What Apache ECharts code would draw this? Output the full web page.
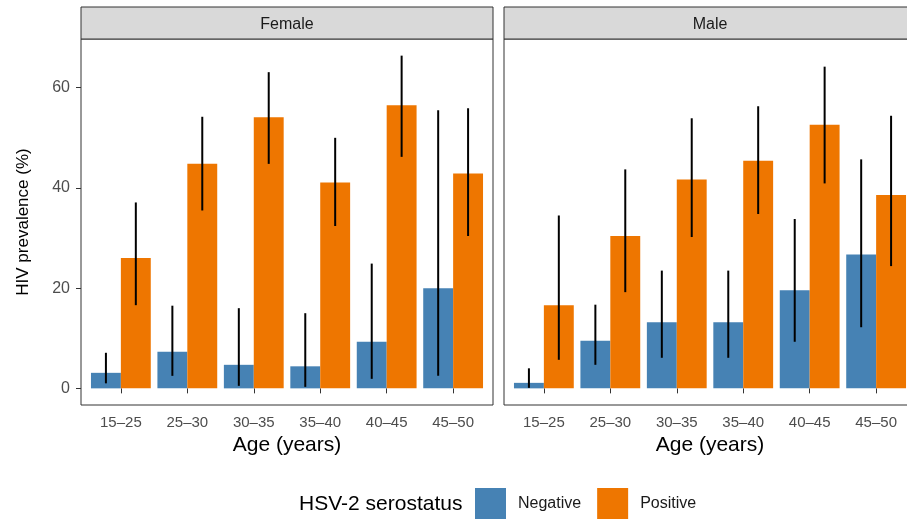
<!DOCTYPE html>
<html>
<head>
<meta charset="utf-8">
<script src="https://cdn.jsdelivr.net/npm/echarts@6/dist/echarts.min.js"></script>
<style>
  html, body { margin: 0; padding: 0; background: #fff; }
  #chart { width: 907px; height: 519px; }
</style>
</head>
<body>
<div id="chart"></div>
<script>
// age groups (x categories)
const ageGroups = ['15–25', '25–30', '30–35', '35–40', '40–45', '45–50'];
const yTicks = [0, 20, 40, 60];

// Female, HSV-2 negative / positive: estimate and 95% CI
const femaleNeg = [3.1, 7.3, 4.7, 4.4, 9.3, 20.0];
const femaleNegLow = [1.0, 2.5, 0.5, 0.3, 1.9, 2.5];
const femaleNegHigh = [7.1, 16.5, 16.0, 15.0, 24.9, 55.5];
const femalePos = [26.0, 44.8, 54.1, 41.1, 56.5, 42.9];
const femalePosLow = [16.6, 35.5, 44.8, 32.4, 46.2, 30.4];
const femalePosHigh = [37.1, 54.2, 63.1, 50.0, 66.4, 55.9];

// Male
const maleNeg = [1.1, 9.5, 13.2, 13.2, 19.6, 26.7];
const maleNegLow = [0.1, 4.7, 6.1, 6.1, 9.3, 12.2];
const maleNegHigh = [4.0, 16.7, 23.5, 23.5, 33.8, 45.7];
const malePos = [16.6, 30.4, 41.7, 45.4, 52.6, 38.6];
const malePosLow = [5.7, 19.2, 30.2, 34.8, 40.9, 24.4];
const malePosHigh = [34.5, 43.7, 53.9, 56.3, 64.2, 54.4];

const colNeg = '#4682B4';
const colPos = '#EE7600';
const fontFamily = 'Liberation Sans, Arial, sans-serif';

// panel layout (px)
const panelW = 412;
const panelTop = 39;
const panelBottom = 405;
const stripH = 32;
const panels = [{ left: 81, title: 'Female' }, { left: 504, title: 'Male' }];

// ggplot style expansion
const yMaxData = Math.max(...femaleNegHigh, ...femalePosHigh, ...maleNegHigh, ...malePosHigh);
const yMin = -0.05 * yMaxData;
const yMax = yMaxData * 1.05;
const xMin = 0.4, xMax = ageGroups.length + 0.6;
const dodge = 0.225;
const barW = 0.45 * panelW / (xMax - xMin);

function barData(vals, off) {
  return vals.map((v, i) => [i + 1 + off, v]);
}
function errData(low, high, off) {
  return low.map((l, i) => [i + 1 + off, l, high[i]]);
}
function renderErr(params, api) {
  const p1 = api.coord([api.value(0), api.value(1)]);
  const p2 = api.coord([api.value(0), api.value(2)]);
  return {
    type: 'line',
    shape: { x1: p1[0], y1: p1[1], x2: p2[0], y2: p2[1] },
    style: { stroke: '#000', lineWidth: 2 }
  };
}

const chart = echarts.init(document.getElementById('chart'));

const grids = panels.map(p => ({
  left: p.left,
  width: panelW,
  top: panelTop,
  bottom: 519 - panelBottom,
  outerBoundsMode: 'none',
  containLabel: false,
  show: true,
  borderColor: '#333333',
  borderWidth: 1,
  backgroundColor: '#fff'
}));

const xAxes = panels.map((p, k) => ({
  type: 'value',
  gridIndex: k,
  min: xMin,
  max: xMax,
  axisLine: { show: false },
  splitLine: { show: false },
  axisTick: { show: true, length: 5, lineStyle: { color: '#333333' }, customValues: ageGroups.map((a, i) => i + 1) },
  axisLabel: {
    show: true,
    customValues: ageGroups.map((a, i) => i + 1),
    formatter: v => ageGroups[Math.round(v) - 1],
    color: '#4D4D4D',
    fontSize: 15,
    fontFamily: fontFamily,
    margin: 10
  },
  name: 'Age (years)',
  nameLocation: 'middle',
  nameGap: 29,
  nameTextStyle: { fontSize: 21, color: '#000', fontFamily: fontFamily }
}));

const yAxes = panels.map((p, k) => ({
  type: 'value',
  gridIndex: k,
  min: yMin,
  max: yMax,
  axisLine: { show: false },
  splitLine: { show: false },
  axisTick: { show: k === 0, length: 5, lineStyle: { color: '#333333' }, customValues: yTicks },
  axisLabel: {
    show: k === 0,
    customValues: yTicks,
    color: '#4D4D4D',
    fontSize: 16,
    fontFamily: fontFamily,
    margin: 11
  },
  name: k === 0 ? 'HIV prevalence (%)' : '',
  nameLocation: 'middle',
  nameRotate: 90,
  nameGap: 49,
  nameTextStyle: { fontSize: 17, color: '#000', fontFamily: fontFamily }
}));

const groups = [
  { neg: femaleNeg, negL: femaleNegLow, negH: femaleNegHigh, pos: femalePos, posL: femalePosLow, posH: femalePosHigh },
  { neg: maleNeg, negL: maleNegLow, negH: maleNegHigh, pos: malePos, posL: malePosLow, posH: malePosHigh }
];

const series = [];
groups.forEach((g, k) => {
  series.push({
    name: 'Negative', type: 'bar', xAxisIndex: k, yAxisIndex: k,
    barWidth: barW, barGap: '-100%', itemStyle: { color: colNeg },
    data: barData(g.neg, -dodge), silent: true
  });
  series.push({
    name: 'Positive', type: 'bar', xAxisIndex: k, yAxisIndex: k,
    barWidth: barW, barGap: '-100%', itemStyle: { color: colPos },
    data: barData(g.pos, dodge), silent: true
  });
  series.push({
    name: 'errNeg' + k, type: 'custom', xAxisIndex: k, yAxisIndex: k,
    renderItem: renderErr, data: errData(g.negL, g.negH, -dodge), z: 5, silent: true
  });
  series.push({
    name: 'errPos' + k, type: 'custom', xAxisIndex: k, yAxisIndex: k,
    renderItem: renderErr, data: errData(g.posL, g.posH, dodge), z: 5, silent: true
  });
});

// facet strips
const strips = [];
panels.forEach(p => {
  strips.push({
    type: 'rect',
    shape: { x: p.left, y: panelTop - stripH, width: panelW, height: stripH },
    style: { fill: '#D9D9D9', stroke: '#333333', lineWidth: 1 }
  });
  strips.push({
    type: 'text',
    x: p.left + panelW / 2,
    y: panelTop - stripH / 2 + 2,
    style: { text: p.title, fill: '#1A1A1A', font: '16px ' + fontFamily, align: 'center', verticalAlign: 'middle' }
  });
});
strips.push({
  type: 'text',
  x: 299,
  y: 504,
  style: { text: 'HSV-2 serostatus', fill: '#000', font: '21px ' + fontFamily, align: 'left', verticalAlign: 'middle' }
});

chart.setOption({
  animation: false,
  textStyle: { fontFamily: fontFamily },
  grid: grids,
  xAxis: xAxes,
  yAxis: yAxes,
  legend: {
    data: ['Negative', 'Positive'],
    left: 475,
    top: 488,
    padding: 0,
    itemWidth: 31,
    itemHeight: 31,
    itemGap: 16,
    icon: 'rect',
    selectedMode: false,
    textStyle: { fontSize: 16, color: '#1A1A1A', fontFamily: fontFamily, padding: [0, 0, 0, 7] }
  },
  graphic: strips,
  series: series
});
</script>
</body>
</html>
